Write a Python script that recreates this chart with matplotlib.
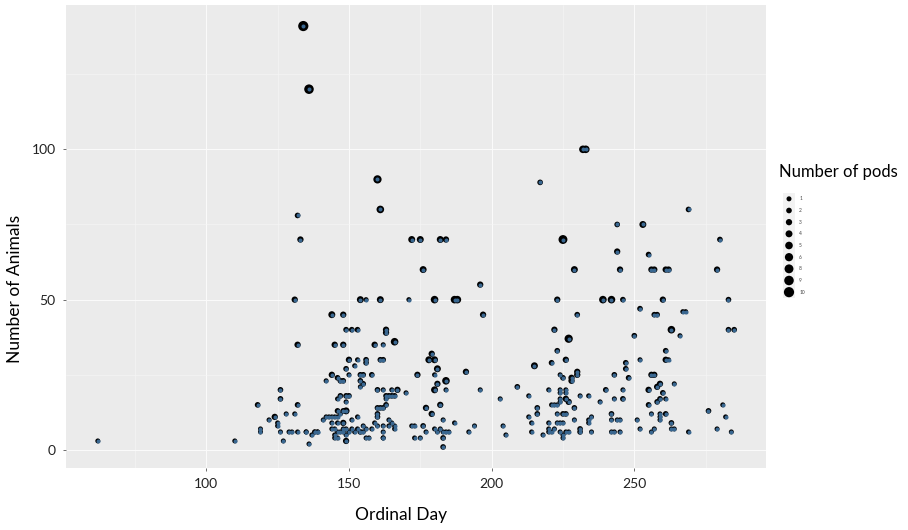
import numpy as np
import matplotlib
matplotlib.use("Agg")
import matplotlib.pyplot as plt

# ordinal day of each sighting
day = [
    62, 110, 118, 119, 119, 122, 124, 125, 125, 126, 126, 126, 127, 128, 129, 130, 131, 132, 132,
    135, 136, 137, 138, 139,
    132, 133, 134, 136, 131, 132,
    161, 160, 154, 156, 161, 144, 148, 149, 151, 153, 163, 163, 145, 148, 159, 162,
    150, 153, 156, 161, 162, 149, 152, 156, 144, 146, 147, 148, 150, 154, 155, 158,
    154, 155, 154, 142, 147, 149, 150, 146, 149, 146, 148, 149, 147,
    142, 143, 144, 145, 146, 141, 144, 146, 148, 151, 153,
    144, 145, 146, 147, 148, 148, 149, 150, 151, 152, 153, 155, 156,
    145, 145, 146, 149, 135, 138, 139, 156, 157, 162,
    160, 162, 163, 164, 165, 166, 160, 161, 162, 163, 160, 160, 159, 160, 162, 164,
    154, 155, 158, 149,
    172, 175, 182, 184, 176, 196, 171, 180, 187, 188, 197, 166, 179, 178, 180, 181,
    174, 180, 191, 184, 181, 180, 184, 196, 167, 165, 170, 163, 203, 182, 177, 179,
    183, 164, 165, 166, 166, 162, 162, 172, 173, 176, 180, 181, 182, 183, 184, 185,
    177, 187, 192, 194, 173, 175, 183, 183, 204, 205,
    225, 244, 255, 229, 245, 256, 257, 261, 262, 279, 223, 239, 242, 246, 260,
    230, 252, 257, 258, 267, 268, 222, 227, 250, 263, 266, 223, 226, 221, 215,
    247, 247, 252, 261, 261, 262, 224, 225, 228, 228, 230, 230, 243, 248, 256, 257, 264,
    209, 213, 220, 224, 224, 226, 226, 231, 234, 240, 246, 255, 258, 259, 260,
    226, 227, 229, 221, 222, 223, 224, 224, 238, 243, 246, 255, 258, 259, 261,
    216, 216, 213, 214, 214, 218, 220, 220, 220, 221, 222, 224, 225, 225,
    223, 225, 226, 223, 224, 225, 226, 227, 229, 231, 231, 234, 234, 235, 235,
    242, 242, 244, 245, 242, 243, 245, 251, 252, 256, 256, 257, 259, 259, 259,
    261, 263, 263, 264, 269, 276, 279,
    217, 232, 233, 244, 253, 269, 280, 283, 283, 285, 281, 282, 284,
]

# number of animals seen
animals = [
    3, 3, 15, 7, 6, 10, 11, 9, 8, 20, 17, 6, 3, 12, 6, 6, 12, 15, 6,
    6, 2, 5, 6, 6,
    78, 70, 141, 120, 50, 35,
    80, 90, 50, 50, 50, 45, 45, 40, 40, 40, 40, 39, 35, 35, 35, 35,
    30, 30, 30, 30, 30, 27, 28, 29, 25, 24, 23, 23, 25, 25, 25, 25,
    23, 22, 21, 23, 18, 18, 18, 17, 16, 13, 13, 13, 12,
    11, 11, 11, 11, 11, 10, 9, 9, 9, 10, 11,
    7, 7, 6, 6, 6, 7, 7, 6, 7, 6, 7, 6, 7,
    5, 4, 4, 3, 6, 6, 6, 4, 4, 4,
    20, 20, 18, 18, 18, 18, 14, 14, 14, 15, 12, 11, 9, 8, 8, 8,
    6, 8, 7, 5,
    70, 70, 70, 70, 60, 55, 50, 50, 50, 50, 45, 36, 32, 30, 30, 27,
    25, 25, 26, 23, 22, 20, 20, 20, 20, 20, 19, 17, 17, 15, 14, 12,
    10, 10, 9, 8, 7, 6, 4, 8, 8, 8, 7, 6, 7, 6, 6, 6,
    6, 9, 6, 8, 4, 4, 4, 1, 8, 5,
    70, 66, 65, 60, 60, 60, 60, 60, 60, 60, 50, 50, 50, 50, 50,
    45, 47, 45, 45, 46, 46, 40, 37, 38, 40, 38, 33, 30, 29, 28,
    29, 27, 30, 33, 30, 30, 25, 24, 24, 23, 26, 25, 25, 24, 25, 25, 22,
    21, 18, 20, 20, 19, 20, 19, 18, 18, 20, 20, 20, 21, 22, 19,
    17, 16, 14, 15, 15, 15, 17, 16, 16, 17, 17, 15, 16, 17, 17,
    14, 12, 11, 9, 6, 5, 9, 7, 6, 6, 7, 6, 5, 4,
    12, 12, 12, 9, 9, 9, 6, 6, 10, 7, 6, 10, 9, 11, 6,
    12, 10, 10, 10, 6, 6, 6, 10, 7, 12, 6, 7, 12, 11, 10,
    12, 9, 7, 7, 6, 13, 7,
    89, 100, 100, 75, 75, 80, 70, 50, 40, 40, 15, 11, 6,
]

# number of pods in the group
pods = [
    1, 1, 2, 1, 1, 1, 3, 1, 1, 2, 2, 1, 1, 1, 1, 1, 1, 2, 1,
    1, 1, 1, 1, 1,
    2, 3, 10, 9, 3, 3,
    5, 6, 4, 1, 4, 4, 3, 2, 2, 2, 3, 3, 3, 3, 3, 1,
    3, 1, 2, 2, 2, 2, 1, 2, 3, 2, 2, 2, 1, 2, 2, 2,
    2, 2, 1, 1, 2, 2, 2, 1, 1, 2, 2, 4, 1,
    1, 1, 1, 1, 1, 1, 1, 1, 3, 1, 1,
    1, 1, 1, 1, 1, 1, 1, 1, 1, 1, 1, 1, 1,
    1, 1, 1, 3, 1, 1, 1, 1, 1, 1,
    2, 1, 2, 2, 2, 2, 2, 2, 2, 2, 2, 2, 1, 1, 1, 1,
    2, 1, 1, 1,
    4, 4, 4, 3, 4, 3, 1, 5, 5, 5, 3, 5, 3, 4, 4, 4,
    3, 1, 3, 5, 3, 4, 1, 1, 3, 1, 1, 1, 1, 3, 3, 3,
    1, 1, 1, 1, 1, 1, 1, 1, 1, 2, 1, 1, 1, 1, 1, 1,
    1, 1, 1, 1, 1, 1, 2, 2, 1, 1,
    8, 3, 2, 4, 3, 3, 3, 3, 3, 3, 3, 5, 5, 2, 3,
    2, 2, 2, 2, 1, 1, 3, 6, 2, 5, 1, 2, 3, 2, 4,
    2, 2, 1, 2, 3, 1, 1, 2, 3, 3, 3, 3, 2, 2, 3, 3, 1,
    2, 1, 1, 1, 1, 1, 1, 1, 1, 2, 1, 3, 3, 3, 2,
    3, 3, 2, 1, 1, 1, 1, 1, 1, 1, 2, 2, 2, 2, 1,
    2, 2, 1, 1, 1, 1, 1, 1, 1, 1, 1, 1, 1, 1,
    1, 2, 2, 1, 1, 1, 1, 1, 1, 2, 2, 1, 1, 1, 1,
    2, 1, 1, 1, 1, 1, 1, 1, 1, 1, 1, 1, 1, 1, 1,
    2, 2, 1, 1, 1, 2, 1,
    2, 5, 5, 2, 4, 2, 2, 2, 2, 2, 1, 1, 1,
]

pod_levels = [1, 2, 3, 4, 5, 6, 8, 9, 10]

x_ticks = [100, 150, 200, 250]
y_ticks = [0, 50, 100]

point_blue = "#3a6891"
panel_grey = "#ebebeb"

plt.rcParams["font.family"] = ["Lato", "DejaVu Sans"]


def pod_size(p):
    # discrete size scale: diameter grows by level index, returned as points^2
    idx = pod_levels.index(p)
    d_px = 5.0 + 0.65 * idx
    return (d_px * 72 / 100) ** 2


fig = plt.figure(figsize=(9.08, 5.30), dpi=100)
ax = fig.add_axes([66 / 908, 1 - 468 / 530, 700 / 908, 463 / 530])
ax.set_facecolor(panel_grey)

ax.scatter(day, animals, s=[pod_size(p) for p in pods], color="black",
           linewidths=0, zorder=3)
ax.scatter(day, animals, s=(4.0 * 72 / 100) ** 2, color=point_blue,
           linewidths=0, zorder=4)

xmin, xmax = min(day), max(day)
ymin, ymax = min(animals), max(animals)
xpad = (xmax - xmin) * 0.05
ypad = (ymax - ymin) * 0.05
ax.set_xlim(xmin - xpad, xmax + xpad)
ax.set_ylim(ymin - ypad, ymax + ypad)

ax.set_xticks(x_ticks)
ax.set_yticks(y_ticks)
ax.set_xticks([75, 125, 175, 225, 275], minor=True)
ax.set_yticks([25, 75, 125], minor=True)
ax.grid(True, which="major", color="#fafafa", linewidth=0.8, zorder=0)
ax.grid(True, which="minor", color="#f6f6f6", linewidth=0.4, zorder=0)
ax.set_axisbelow(True)
for s in ax.spines.values():
    s.set_visible(False)

ax.tick_params(which="major", length=2.5, width=0.6, color="#555555",
               labelsize=10, labelcolor="#222222", pad=5)
ax.tick_params(which="minor", length=0)

ax.set_xlabel("Ordinal Day", fontsize=12.5, va="center")
ax.xaxis.set_label_coords((401 - 66) / 700, (468 - 515) / 463)
ax.set_ylabel("Number of Animals", fontsize=12.5, va="center", ha="center")
ax.yaxis.set_label_coords((15 - 66) / 700, (468 - 289) / 463)

# legend for pod count
fig.text(838 / 908, 1 - 172 / 530, "Number of pods", fontsize=12,
         ha="center", va="center")
lax = fig.add_axes([783 / 908, 1 - 298 / 530, 12 / 908, 105 / 530])
lax.set_facecolor("#f2f2f2")
lax.scatter(np.full(len(pod_levels), 0.5), np.arange(len(pod_levels)),
            s=[pod_size(p) for p in pod_levels], color="black", linewidths=0)
for i, p in enumerate(pod_levels):
    lax.text(1.35, i, str(p), fontsize=3.5, color="#444444",
             va="center", ha="left", transform=lax.get_yaxis_transform(),
             clip_on=False)
lax.set_xlim(0, 1)
lax.set_ylim(len(pod_levels) - 0.5, -0.5)
lax.set_xticks([])
lax.set_yticks([])
for s in lax.spines.values():
    s.set_visible(False)

fig.savefig("out.png", dpi=100)
